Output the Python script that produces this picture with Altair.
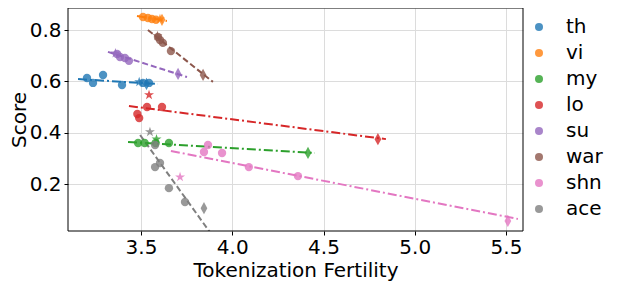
import altair as alt
import pandas as pd

langs = ["th", "vi", "my", "lo", "su", "war", "shn", "ace"]
colors = ["#1f77b4", "#ff7f0e", "#2ca02c", "#d62728", "#9467bd", "#8c564b", "#e377c2", "#7f7f7f"]

pt_lang = (["th"] * 8 + ["vi"] * 6 + ["my"] * 6 + ["lo"] * 6 + ["su"] * 6
           + ["war"] * 6 + ["shn"] * 7 + ["ace"] * 7)
pt_kind = (["c"] * 6 + ["s", "d"]
           + ["c"] * 4 + ["s", "d"]
           + ["c"] * 4 + ["s", "d"]
           + ["c"] * 4 + ["s", "d"]
           + ["c"] * 4 + ["s", "d"]
           + ["c"] * 4 + ["s", "d"]
           + ["c"] * 5 + ["s", "d"]
           + ["c"] * 5 + ["s", "d"])
pt_x = [3.204, 3.237, 3.292, 3.396, 3.51, 3.544, 3.49, 3.53,
        3.511, 3.538, 3.56, 3.582, 3.604, 3.615,
        3.484, 3.52, 3.58, 3.653, 3.585, 4.415,
        3.48, 3.49, 3.533, 3.615, 3.544, 4.798,
        3.369, 3.385, 3.412, 3.434, 3.36, 3.703,
        3.593, 3.604, 3.62, 3.664, 3.59, 3.84,
        3.867, 3.845, 3.944, 4.091, 4.36, 3.714, 5.51,
        3.577, 3.577, 3.604, 3.653, 3.741, 3.549, 3.845]
pt_y = [0.613, 0.594, 0.625, 0.586, 0.594, 0.594, 0.598, 0.59,
        0.851, 0.847, 0.843, 0.84, 0.843, 0.84,
        0.36, 0.36, 0.36, 0.36, 0.375, 0.321,
        0.473, 0.457, 0.5, 0.5, 0.547, 0.375,
        0.707, 0.695, 0.691, 0.68, 0.71, 0.629,
        0.773, 0.761, 0.75, 0.718, 0.777, 0.625,
        0.352, 0.325, 0.321, 0.266, 0.231, 0.227, 0.056,
        0.352, 0.266, 0.282, 0.184, 0.13, 0.403, 0.106]

ln_x0 = [3.155, 3.478, 3.429, 3.434, 3.319, 3.538, 3.664, 3.495]
ln_y0 = [0.609, 0.855, 0.364, 0.504, 0.715, 0.800, 0.329, 0.391]
ln_x1 = [3.593, 3.642, 4.453, 4.842, 3.752, 3.894, 5.565, 3.89]
ln_y1 = [0.590, 0.835, 0.321, 0.375, 0.617, 0.598, 0.064, 0.0]
ln_style = ["dashdot", "dashdot", "dashdot", "dashdot", "dashed", "dashed", "dashdot", "dashed"]

pts = pd.DataFrame({"lang": pt_lang, "kind": pt_kind, "x": pt_x, "y": pt_y})
rows = []
for i, l in enumerate(langs):
    rows.append({"lang": l, "style": ln_style[i], "x": ln_x0[i], "y": ln_y0[i], "o": 0})
    rows.append({"lang": l, "style": ln_style[i], "x": ln_x1[i], "y": ln_y1[i], "o": 1})
lines = pd.DataFrame(rows)

FONT = "DejaVu Sans"
FS = 20
W, H = 455, 223
xs = alt.Scale(domain=[3.1, 5.593], nice=False, zero=False)
ys = alt.Scale(domain=[0.017, 0.886], nice=False, zero=False)
cs = alt.Scale(domain=langs, range=colors)

STAR = "M0,-1L0.225,-0.309L0.951,-0.309L0.363,0.118L0.588,0.809L0,0.382L-0.588,0.809L-0.363,0.118L-0.951,-0.309L-0.225,-0.309Z"
THIN_D = "M0,-1L0.55,0L0,1L-0.55,0Z"

xax = alt.Axis(values=[3.5, 4.0, 4.5, 5.0, 5.5], format=".1f", title="Tokenization Fertility",
               labelFontSize=FS, titleFontSize=FS, labelFont=FONT, titleFont=FONT,
               labelColor="black", titleColor="black", titleFontWeight="normal",
               tickColor="black", tickSize=4, labelPadding=2, titlePadding=3,
               gridColor="#dcdcdc", domain=False)
yax = alt.Axis(values=[0.2, 0.4, 0.6, 0.8], format=".1f", title="Score",
               labelFontSize=FS, titleFontSize=FS, labelFont=FONT, titleFont=FONT,
               labelColor="black", titleColor="black", titleFontWeight="normal",
               tickColor="black", tickSize=4, labelPadding=3, titlePadding=0,
               gridColor="#dcdcdc", domain=False)

legend = alt.Legend(
    title=None, orient="none", legendX=461, legendY=9, symbolType="circle",
    symbolSize=64, symbolOpacity=0.8, labelFontSize=FS, labelFont=FONT, labelColor="black",
    labelOffset=17, rowPadding=6, padding=0, symbolStrokeWidth=0)

line_layer = alt.Chart(lines).mark_line(strokeWidth=2, clip=True).encode(
    x=alt.X("x:Q", scale=xs, axis=xax),
    y=alt.Y("y:Q", scale=ys, axis=yax),
    color=alt.Color("lang:N", scale=cs, legend=legend),
    strokeDash=alt.StrokeDash("style:N", scale=alt.Scale(domain=["dashdot", "dashed"],
                                                         range=[[9, 3, 2, 3], [6, 3]]), legend=None),
    detail="lang:N",
    order="o:Q",
)

point_layer = alt.Chart(pts).mark_point(filled=True, opacity=0.8, strokeWidth=0, clip=True).encode(
    x=alt.X("x:Q", scale=xs),
    y=alt.Y("y:Q", scale=ys),
    color=alt.Color("lang:N", scale=cs, legend=legend),
    shape=alt.Shape("kind:N", scale=alt.Scale(domain=["c", "s", "d"], range=["circle", STAR, THIN_D]),
                    legend=None),
    size=alt.Size("kind:N", scale=alt.Scale(domain=["c", "s", "d"], range=[70, 150, 150]), legend=None),
)

frame = alt.Chart(pd.DataFrame({"f": [0]})).mark_rect(fill=None, stroke="black", strokeWidth=1).encode(
    x=alt.value(0), x2=alt.value(W), y=alt.value(0), y2=alt.value(H))

chart = alt.layer(line_layer, point_layer, frame).properties(
    width=W, height=H,
    autosize=alt.AutoSizeParams(type="none"),
    padding={"left": 60, "top": 0, "right": 86, "bottom": 50},
).configure(background="white").configure_view(stroke=None)

chart.save("out.html", embed_options={"renderer": "svg", "actions": False})
